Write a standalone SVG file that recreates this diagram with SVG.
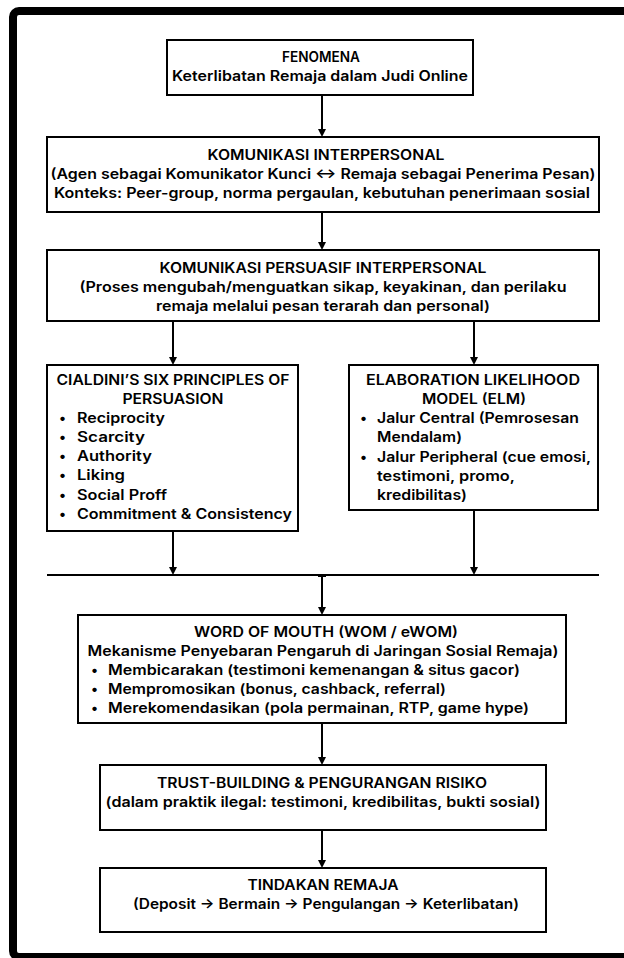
<svg xmlns="http://www.w3.org/2000/svg" width="624" height="958" viewBox="0 0 624 958">
<defs>
<marker id="ah" markerWidth="8" markerHeight="8" refX="4" refY="4" orient="auto" markerUnits="userSpaceOnUse">
<path d="M0,0 L8,4 L0,8 Z" fill="#000"/>
</marker>
<marker id="tee" markerWidth="2" markerHeight="8" refX="1" refY="4" orient="auto" markerUnits="userSpaceOnUse">
<rect x="0" y="0" width="2" height="8" fill="#000"/>
</marker>
<style>
.box{fill:#fff;stroke:#000;stroke-width:2}
.t{font-family:Inter,"Noto Sans","DejaVu Sans",sans-serif;font-weight:600;font-size:14px;fill:#000}
.c{text-anchor:middle}
.con{stroke:#000;stroke-width:2;fill:none}
.arr{marker-end:url(#ah);marker-start:url(#tee)}
</style>
</defs>
<rect x="0" y="0" width="624" height="958" fill="#fff"/>
<rect x="13" y="11" width="660" height="946" rx="6" fill="none" stroke="#000" stroke-width="8"/>

<g id="connectors">
<line class="con arr" x1="322" y1="95" x2="322" y2="133"/>
<line class="con arr" x1="322" y1="212" x2="322" y2="246"/>
<line class="con arr" x1="173" y1="321" x2="173" y2="361"/>
<line class="con arr" x1="474" y1="321" x2="474" y2="361"/>
<line class="con arr" x1="173" y1="531" x2="173" y2="571"/>
<line class="con arr" x1="474" y1="510" x2="474" y2="571"/>
<line class="con" x1="47" y1="575" x2="599" y2="575"/>
<line class="con arr" x1="322" y1="576" x2="322" y2="611"/>
<line class="con arr" x1="322" y1="723" x2="322" y2="761"/>
<line class="con arr" x1="322" y1="830" x2="322" y2="864"/>
</g>

<g id="fenomena">
<rect class="box" x="167" y="40" width="306" height="55"/>
<text class="t c" x="321" y="62" textLength="78" lengthAdjust="spacingAndGlyphs">FENOMENA</text>
<text class="t c" x="320" y="81" textLength="296" lengthAdjust="spacingAndGlyphs">Keterlibatan Remaja dalam Judi Online</text>
</g>

<g id="komunikasi-interpersonal">
<rect class="box" x="47" y="137" width="552" height="75"/>
<text class="t c" x="326" y="160" textLength="237" lengthAdjust="spacingAndGlyphs">KOMUNIKASI INTERPERSONAL</text>
<text class="t c" x="323" y="179" textLength="545" lengthAdjust="spacingAndGlyphs">(Agen sebagai Komunikator Kunci ↔ Remaja sebagai Penerima Pesan)</text>
<text class="t c" x="322" y="198" textLength="536" lengthAdjust="spacingAndGlyphs">Konteks: Peer-group, norma pergaulan, kebutuhan penerimaan sosial</text>
</g>

<g id="komunikasi-persuasif">
<rect class="box" x="47" y="250" width="552" height="71"/>
<text class="t c" x="323" y="273" textLength="327" lengthAdjust="spacingAndGlyphs">KOMUNIKASI PERSUASIF INTERPERSONAL</text>
<text class="t c" x="323" y="292" textLength="487" lengthAdjust="spacingAndGlyphs">(Proses mengubah/menguatkan sikap, keyakinan, dan perilaku</text>
<text class="t c" x="323" y="311" textLength="334" lengthAdjust="spacingAndGlyphs">remaja melalui pesan terarah dan personal)</text>
</g>

<g id="cialdini">
<rect class="box" x="47" y="365" width="251" height="166"/>
<text class="t c" x="173" y="385" textLength="233" lengthAdjust="spacingAndGlyphs">CIALDINI’S SIX PRINCIPLES OF</text>
<text class="t c" x="173" y="404" textLength="101" lengthAdjust="spacingAndGlyphs">PERSUASION</text>
<text class="t" x="59" y="423">•</text><text class="t" x="77" y="423" textLength="88" lengthAdjust="spacingAndGlyphs">Reciprocity</text>
<text class="t" x="59" y="442">•</text><text class="t" x="77" y="442" textLength="68" lengthAdjust="spacingAndGlyphs">Scarcity</text>
<text class="t" x="59" y="461">•</text><text class="t" x="77" y="461" textLength="75" lengthAdjust="spacingAndGlyphs">Authority</text>
<text class="t" x="59" y="480">•</text><text class="t" x="77" y="480" textLength="48" lengthAdjust="spacingAndGlyphs">Liking</text>
<text class="t" x="59" y="500">•</text><text class="t" x="77" y="500" textLength="90" lengthAdjust="spacingAndGlyphs">Social Proff</text>
<text class="t" x="59" y="519">•</text><text class="t" x="77" y="519" textLength="215" lengthAdjust="spacingAndGlyphs">Commitment &amp; Consistency</text>
</g>

<g id="elm">
<rect class="box" x="349" y="365" width="249" height="145"/>
<text class="t c" x="473" y="385" textLength="214" lengthAdjust="spacingAndGlyphs">ELABORATION LIKELIHOOD</text>
<text class="t c" x="474" y="404" textLength="104" lengthAdjust="spacingAndGlyphs">MODEL (ELM)</text>
<text class="t" x="360" y="423">•</text><text class="t" x="377" y="423" textLength="202" lengthAdjust="spacingAndGlyphs">Jalur Central (Pemrosesan</text>
<text class="t" x="377" y="442" textLength="85" lengthAdjust="spacingAndGlyphs">Mendalam)</text>
<text class="t" x="360" y="462">•</text><text class="t" x="377" y="462" textLength="214" lengthAdjust="spacingAndGlyphs">Jalur Peripheral (cue emosi,</text>
<text class="t" x="377" y="481" textLength="138" lengthAdjust="spacingAndGlyphs">testimoni, promo,</text>
<text class="t" x="377" y="500" textLength="90" lengthAdjust="spacingAndGlyphs">kredibilitas)</text>
</g>

<g id="wom">
<rect class="box" x="78" y="615" width="488" height="108"/>
<text class="t c" x="326" y="637" textLength="264" lengthAdjust="spacingAndGlyphs">WORD OF MOUTH (WOM / eWOM)</text>
<text class="t c" x="323" y="656" textLength="471" lengthAdjust="spacingAndGlyphs">Mekanisme Penyebaran Pengaruh di Jaringan Sosial Remaja)</text>
<text class="t" x="91" y="675">•</text><text class="t" x="108" y="675" textLength="412" lengthAdjust="spacingAndGlyphs">Membicarakan (testimoni kemenangan &amp; situs gacor)</text>
<text class="t" x="91" y="694">•</text><text class="t" x="108" y="694" textLength="338" lengthAdjust="spacingAndGlyphs">Mempromosikan (bonus, cashback, referral)</text>
<text class="t" x="91" y="713">•</text><text class="t" x="108" y="713" textLength="421" lengthAdjust="spacingAndGlyphs">Merekomendasikan (pola permainan, RTP, game hype)</text>
</g>

<g id="trust-building">
<rect class="box" x="100" y="765" width="446" height="65"/>
<text class="t c" x="322" y="788" textLength="330" lengthAdjust="spacingAndGlyphs">TRUST-BUILDING &amp; PENGURANGAN RISIKO</text>
<text class="t c" x="323" y="807" textLength="435" lengthAdjust="spacingAndGlyphs">(dalam praktik ilegal: testimoni, kredibilitas, bukti sosial)</text>
</g>

<g id="tindakan-remaja">
<rect class="box" x="100" y="868" width="446" height="64"/>
<text class="t c" x="323" y="890" textLength="151" lengthAdjust="spacingAndGlyphs">TINDAKAN REMAJA</text>
<text class="t c" x="326" y="909" textLength="386" lengthAdjust="spacingAndGlyphs">(Deposit → Bermain → Pengulangan → Keterlibatan)</text>
</g>
</svg>
